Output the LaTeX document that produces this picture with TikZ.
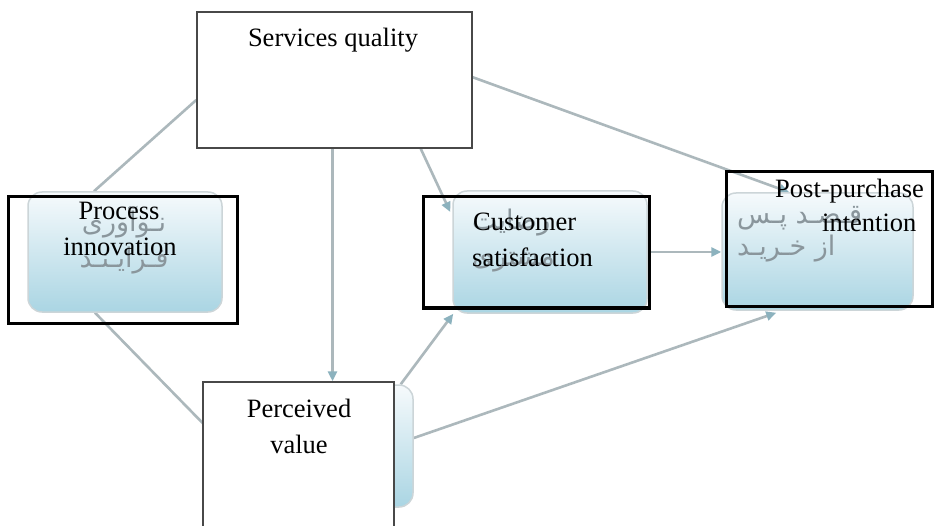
\documentclass[tikz,border=0pt]{standalone}
\usepackage{fontspec}
\setmainfont{Liberation Serif}
\newfontfamily\persianfont[Script=Arabic]{DejaVu Sans}
\TeXXeTstate=1
\usetikzlibrary{arrows.meta,calc}

\definecolor{linkgray}{RGB}{172,184,188}
\definecolor{tipblue}{RGB}{140,178,190}
\definecolor{boxedge}{RGB}{204,213,216}
\definecolor{boxtop}{RGB}{246,250,252}
\definecolor{boxbottom}{RGB}{170,213,227}
\definecolor{fadedtext}{RGB}{138,150,156}
\definecolor{plainedge}{RGB}{72,72,72}

\pgfdeclarelayer{paper}
\pgfdeclarelayer{background}
\pgfsetlayers{paper,background,main}

\tikzset{
  bluebox/.style={rectangle, rounded corners=14pt, draw=boxedge, line width=1.5pt,
    top color=boxtop, bottom color=boxbottom, inner sep=0pt},
  outline/.style={rectangle, draw=black, line width=3pt, inner sep=0pt},
  blankbox/.style={rectangle, draw=plainedge, fill=white, line width=1.5pt, inner sep=0pt},
  link/.style={draw=linkgray, line width=2.6pt},
  arrowlink/.style={link, -{Triangle[length=10pt,width=9pt,color=tipblue]}},
  wordtext/.style={font=\fontsize{26.5}{36}\selectfont, anchor=base, inner sep=0pt},
  farsitext/.style={font=\persianfont\fontsize{27}{34}\selectfont, text=fadedtext,
    anchor=base, inner sep=0pt},
}

\begin{document}
\begin{tikzpicture}[x=1pt,y=-1pt]
  \useasboundingbox (0,0) rectangle (936,526);
  \clip (0,0) rectangle (936,526);
  \begin{pgfonlayer}{paper}
    \fill[white] (0,0) rectangle (936,526);
  \end{pgfonlayer}

  % rounded shaded boxes
  \node[bluebox, minimum width=194pt, minimum height=120pt] (pibg) at (125,252) {};
  \node[bluebox, minimum width=194pt, minimum height=122pt] (csbg) at (550,252) {};
  \node[bluebox, minimum width=191pt, minimum height=117pt] (ppbg) at (817.5,251.5) {};
  \node[bluebox, minimum width=195pt, minimum height=122pt] (pvbg) at (315.5,446) {};

  % faded Persian captions inside the shaded boxes
  \node[farsitext] (pifa1) at (124,232) {\beginR نـوآوری\endR};
  \node[farsitext] (pifa2) at (124,268) {\beginR فـرایـنـد\endR};
  \node[farsitext, anchor=base west] (csfa1) at (472,230) {\beginR رضایت\endR};
  \node[farsitext, anchor=base west] (csfa2) at (472,266) {\beginR مشتری\endR};
  \node[farsitext, anchor=base west] (ppfa1) at (737,224) {\beginR قـصـد  پـس\endR};
  \node[farsitext, anchor=base west] (ppfa2) at (737,256) {\beginR از  خـریـد\endR};

  % plain white boxes
  \node[blankbox, minimum width=275pt, minimum height=136pt] (sq) at (334.5,80) {};
  \node[blankbox, minimum width=191pt, minimum height=160pt] (pv) at (298.5,462) {};

  % black outlines
  \node[outline, minimum width=229pt, minimum height=126pt] (pi) at (122.5,260) {};
  \node[outline, minimum width=226pt, minimum height=111pt] (cs) at (536,252.5) {};
  \node[outline, minimum width=206pt, minimum height=135pt] (pp) at (829,239.5) {};

  % English captions
  \node[wordtext] (sqt) at (333,47) {Services quality};
  \node[wordtext] (pit1) at (119,220) {Process};
  \node[wordtext] (pit2) at (120,256) {innovation};
  \node[wordtext, anchor=base west] (cst1) at (473,231) {Customer};
  \node[wordtext, anchor=base west] (cst2) at (472,267) {satisfaction};
  \node[wordtext, anchor=base west] (ppt1) at (775,198) {Post-purchase};
  \node[wordtext, anchor=base west] (ppt2) at (822,232) {intention};
  \node[wordtext] (pvt1) at (299,417) {Perceived};
  \node[wordtext] (pvt2) at (299,453) {value};

  % connectors
  \coordinate (sqfoot) at ($(sq.south)+(-2,0)$);
  \begin{pgfonlayer}{background}
    \draw[link] ($(pibg.north)+(-31,0)$) -- ($(sq.west)+(0,20)$);
    \draw[link] ($(pibg.south)+(-30,0)$) -- ($(pvbg.west)+(0,-8)$);
    \draw[arrowlink] (sqfoot) -- (sqfoot |- pv.north);
    \draw[arrowlink] ($(sq.south east)+(-52,0)$) -- ($(csbg.west)+(-2,-40)$);
    \draw[arrowlink] ($(sq.north east)+(0,66)$) -- ($(ppbg.north west)+(68,0)$);
    \draw[arrowlink] (csbg.east) -- (csbg.east -| ppbg.west);
    \draw[arrowlink] ($(pvbg.north east)+(-13,0)$) -- ($(csbg.south west)+(1,0)$);
    \draw[arrowlink] ($(pvbg.east)+(0,-8)$) -- ($(ppbg.south west)+(55,2)$);
  \end{pgfonlayer}
\end{tikzpicture}
\end{document}
